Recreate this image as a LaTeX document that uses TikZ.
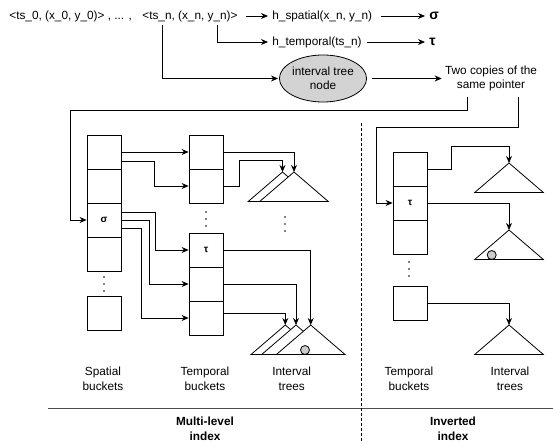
\documentclass[tikz,border=0pt]{standalone}
\usepackage{fontspec}
\setmainfont{Liberation Sans}
\usepackage{tikz}
\usetikzlibrary{arrows.meta,shapes}

\begin{document}
\begin{tikzpicture}[x=1pt,y=-1pt,>={Stealth[length=7pt,width=6pt]},line width=0.8pt,
 font=\fontsize{11.8}{14.5}\selectfont,
 cell/.style={draw,minimum width=34pt,minimum height=34pt,inner sep=0pt,font=\fontsize{10}{10}\selectfont\bfseries},
 txt/.style={inner sep=0pt,anchor=west},
 lbl/.style={align=center,inner sep=0pt},
 tree/.style={draw,fill=white},
 big/.style={font=\fontsize{14}{14}\selectfont\bfseries}]
\useasboundingbox (0,0) rectangle (553,443);

% keys and hashes
\node[txt] (ts0) at (9,16) {<ts\_0, (x\_0, y\_0)> , ... ,};
\node[txt] (tsn) at (142,16) {<ts\_n, (x\_n, y\_n)>};
\node[txt] (hsp) at (272,16) {h\_spatial(x\_n, y\_n)};
\node[txt] (htp) at (272,42) {h\_temporal(ts\_n)};
\node[txt,big] (sig) at (429,16) {σ};
\node[txt,big] (tau) at (429,42) {τ};
\draw[->,shorten <=8pt,shorten >=4pt] (tsn) -- (hsp);
\draw[->,shorten <=8pt,shorten >=4pt] (hsp) -- (sig);
\draw[->,shorten <=5pt,shorten >=4pt] (htp) -- (tau);
\draw[->,shorten >=4pt] ([xshift=75pt,yshift=-3pt]tsn.south west) |- (htp);

\node[ellipse,draw,fill={rgb,255:red,211;green,211;blue,211},minimum width=75pt,minimum height=47pt,inner sep=0pt,align=center] (itn) at (323,78.5) {interval tree\\node};
\node[lbl] (cp) at (491,78.5) {Two copies of the\\same pointer};
\draw[->,shorten >=1pt] ([xshift=20pt,yshift=-3pt]tsn.south west) |- (itn);
\draw[->,shorten <=5pt,shorten >=3pt] (itn) -- (cp);

% spatial buckets
\node[cell] (sp1) at (104,152) {};
\node[cell] (sp2) at (104,186) {};
\node[cell] (sp3) at (104,220) {σ};
\node[cell] (sp4) at (104,254) {};
\node[cell] (sp5) at (104,313) {};

% temporal buckets
\node[cell] (tm1) at (206,152) {};
\node[cell] (tm2) at (206,186) {};
\node[cell] (tm3) at (206,250) {τ};
\node[cell] (tm4) at (206,284) {};
\node[cell] (tm5) at (206,318) {};

% inverted index
\node[cell] (iv1) at (410,169) {};
\node[cell] (iv2) at (410,203) {τ};
\node[cell] (iv3) at (410,237) {};
\node[cell] (iv4) at (410,303) {};

\foreach \x/\y in {104/277,206/212,285/217,409/262}
  \foreach \d in {0,7,14} \fill (\x,\y+\d) circle (0.9);

% interval trees
\foreach \x/\y/\n in {282.5/172/tt1,294/172/tt2,285.3/325/tl1,296/325/tl2,310.7/325/tl3,509/163/ti1,509/230/ti2,509/325/ti3}
  \draw[tree] (\x-34.3,\y+29.5) -- (\x,\y) coordinate (\n) -- (\x+34.3,\y+29.5) -- cycle;
\draw[fill=gray!40] (305,350) circle (4.5);
\draw[fill=gray!40] (491.7,255) circle (4.5);

% pointers
\draw[->] ([xshift=-24pt,yshift=-5pt]cp.south) |- (70,110) |- (sp3);
\draw[->] ([xshift=27pt,yshift=-5pt]cp.south) |- (376,127) |- (iv2);

\draw[->] (sp1) -- (tm1);
\draw[->] ([yshift=-9pt]sp1.east) -- ++(33,0) |- (tm2);
\draw[->] ([yshift=8pt]sp3.east) -- ++(34,0) |- (tm3);
\draw[->] (sp3.east) -- ++(28,0) |- (tm4);
\draw[->] ([yshift=-8.7pt]sp3.east) -- ++(19.7,0) |- (tm5);

\draw[->] (tm1) -| (tt2);
\draw[->] (tm2.east) -- ++(16,0) |- ([yshift=11.3pt]tt1) -- (tt1);
\draw[->] (tm3) -| (tl3);
\draw[->] (tm4) -| (tl2);
\draw[->] ([yshift=5pt]tm5.east) -| (tl1);

\draw[->] (iv1.east) -- ++(24,0) |- ([yshift=17pt]ti1) -- (ti1);
\draw[->] (iv2) -| (ti2);
\draw[->] (iv4) -| (ti3);

% labels
\node[lbl] (l1) at (103,379) {Spatial\\buckets};
\node[lbl] (l2) at (205,379) {Temporal\\buckets};
\node[lbl] (l3) at (291.7,379) {Interval\\trees};
\node[lbl] (l4) at (409,379) {Temporal\\buckets};
\node[lbl] (l5) at (510,379) {Interval\\trees};

\draw[black!70] (47.6,408) -- (553,408);
\draw[dash pattern=on 3pt off 2pt,line width=0.6pt] (361,123) -- (361,443);
\node[lbl,font=\fontsize{11.8}{14.5}\selectfont\bfseries] (ml) at (205,429) {Multi-level\\index};
\node[lbl,font=\fontsize{11.8}{14.5}\selectfont\bfseries] (ii) at (453,429) {Inverted\\index};
\end{tikzpicture}
\end{document}
